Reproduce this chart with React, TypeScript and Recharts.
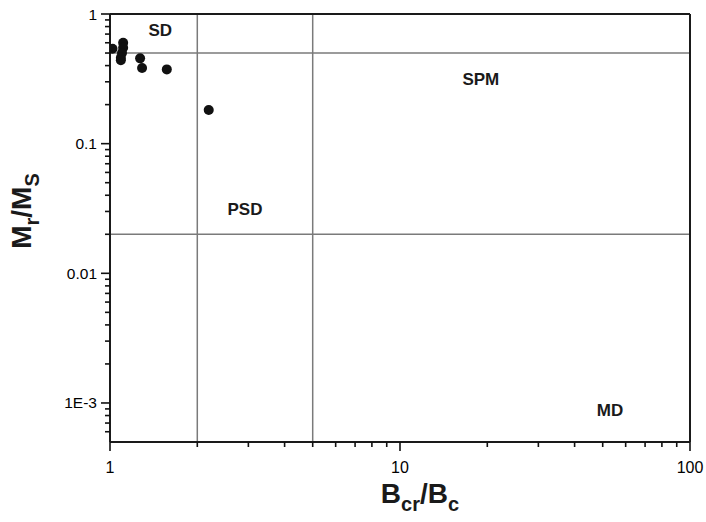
import React from 'react'
import {
  ScatterChart,
  Scatter,
  XAxis,
  YAxis,
  ReferenceLine,
  ReferenceDot,
} from 'recharts'

// Bcr/Bc vs Mr/Ms (Day plot)
const bRatio = [1.02, 1.11, 1.11, 1.1, 1.09, 1.09, 1.27, 1.29, 1.57, 2.19]
const mRatio = [0.54, 0.6, 0.55, 0.5, 0.46, 0.44, 0.455, 0.383, 0.374, 0.182]

const xMajor = [1, 10, 100]
const xMinor = [2, 3, 4, 5, 6, 7, 8, 9, 20, 30, 40, 50, 60, 70, 80, 90]
const yMajor = [0.001, 0.01, 0.1, 1]
const yMinor = [
  0.0006, 0.0007, 0.0008, 0.0009,
  0.002, 0.003, 0.004, 0.005, 0.006, 0.007, 0.008, 0.009,
  0.02, 0.03, 0.04, 0.05, 0.06, 0.07, 0.08, 0.09,
  0.2, 0.3, 0.4, 0.5, 0.6, 0.7, 0.8, 0.9,
]
const yLabels: Record<string, string> = { '0.001': '1E-3', '0.01': '0.01', '0.1': '0.1', '1': '1' }

const xBounds = [2, 5]
const yBounds = [0.5, 0.02]

const regionNames = ['SD', 'SPM', 'PSD', 'MD']
const regionX = [1.49, 19, 2.92, 53]
const regionY = [0.75, 0.31, 0.031, 0.00088]

const data = bRatio.map((x, i) => ({ x, y: mRatio[i] }))
const font = 'Arial, "Liberation Sans", sans-serif'
const ink = '#1a1a1a'

function XTick(props: any) {
  const { x, y, payload } = props
  const major = xMajor.includes(payload.value)
  return (
    <g>
      <line x1={x} x2={x} y1={y} y2={y + (major ? 9 : 5)} stroke="#111" strokeWidth={1.6} />
      {major && (
        <text x={x} y={y + 31} textAnchor="middle" fontSize={16} fontFamily={font} fill="#000">
          {payload.value}
        </text>
      )}
    </g>
  )
}

function YTick(props: any) {
  const { x, y, payload } = props
  const major = yMajor.includes(payload.value)
  return (
    <g>
      <line x1={x} x2={x - (major ? 9 : 5)} y1={y} y2={y} stroke="#111" strokeWidth={1.6} />
      {major && (
        <text x={x - 13} y={y} textAnchor="end" dominantBaseline="central" fontSize={15.5} fontFamily={font} fill="#000">
          {yLabels[String(payload.value)]}
        </text>
      )}
    </g>
  )
}

function XTitle() {
  return (
    <text x={420} y={503} textAnchor="middle" fontSize={28} fontWeight="bold" fontFamily={font} fill={ink}>
      <tspan>B</tspan>
      <tspan dy={8} fontSize={20}>cr</tspan>
      <tspan dy={-8}>/B</tspan>
      <tspan dy={8} fontSize={20}>c</tspan>
    </text>
  )
}

function YTitle() {
  return (
    <text
      transform="translate(31 211) rotate(-90)"
      textAnchor="middle"
      fontSize={28}
      fontWeight="bold"
      fontFamily={font}
      fill={ink}
    >
      <tspan>M</tspan>
      <tspan dy={8} fontSize={20}>r</tspan>
      <tspan dy={-8}>/M</tspan>
      <tspan dy={8} fontSize={20}>S</tspan>
    </text>
  )
}

export default function App() {
  return (
    <div style={{ position: 'absolute', left: 0, top: 0, background: '#fff' }}>
      <ScatterChart width={706} height={522} margin={{ top: 14, right: 16, bottom: 40, left: 30 }}>
        <XAxis
          type="number"
          dataKey="x"
          scale="log"
          domain={[1, 100]}
          allowDataOverflow
          ticks={[...xMajor, ...xMinor]}
          interval={0}
          tick={(p: any) => <XTick {...p} />}
          tickLine={false}
          tickSize={0}
          tickMargin={0}
          height={40}
          axisLine={{ stroke: ink, strokeWidth: 2 }}
          label={<XTitle />}
        />
        <YAxis
          type="number"
          dataKey="y"
          scale="log"
          domain={[0.0005, 1]}
          allowDataOverflow
          ticks={[...yMajor, ...yMinor]}
          interval={0}
          tick={(p: any) => <YTick {...p} />}
          tickLine={false}
          tickSize={0}
          tickMargin={0}
          width={80}
          axisLine={{ stroke: ink, strokeWidth: 2 }}
          label={<YTitle />}
        />
        {xBounds.map(v => (
          <ReferenceLine key={'x' + v} x={v} stroke="#7a7a7a" strokeWidth={1.5} />
        ))}
        {yBounds.map(v => (
          <ReferenceLine key={'y' + v} y={v} stroke="#7a7a7a" strokeWidth={1.5} />
        ))}
        <ReferenceLine y={1} stroke={ink} strokeWidth={2} />
        <ReferenceLine x={100} stroke={ink} strokeWidth={2} />
        {regionNames.map((name, i) => (
          <ReferenceDot
            key={name}
            x={regionX[i]}
            y={regionY[i]}
            r={0}
            shape={(p: any) => (
              <text x={p.cx} y={p.cy} textAnchor="middle" dominantBaseline="central" fontSize={17} fontWeight="bold" fontFamily={font} fill={ink}>
                {name}
              </text>
            )}
          />
        ))}
        <Scatter
          data={data}
          isAnimationActive={false}
          shape={(p: any) => <circle cx={p.cx} cy={p.cy} r={5} fill="#111" />}
        />
      </ScatterChart>
    </div>
  )
}
